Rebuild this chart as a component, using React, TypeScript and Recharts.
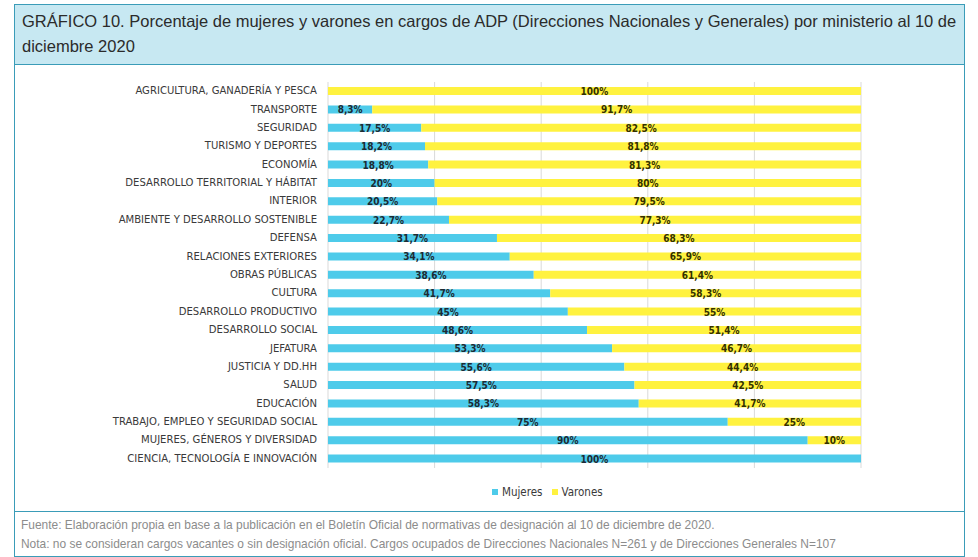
import React from "react";
import { BarChart, Bar, XAxis, YAxis, CartesianGrid, LabelList } from "recharts";

const categories = [
  "AGRICULTURA, GANADERÍA Y PESCA",
  "TRANSPORTE",
  "SEGURIDAD",
  "TURISMO Y DEPORTES",
  "ECONOMÍA",
  "DESARROLLO TERRITORIAL Y HÁBITAT",
  "INTERIOR",
  "AMBIENTE Y DESARROLLO SOSTENIBLE",
  "DEFENSA",
  "RELACIONES EXTERIORES",
  "OBRAS PÚBLICAS",
  "CULTURA",
  "DESARROLLO PRODUCTIVO",
  "DESARROLLO SOCIAL",
  "JEFATURA",
  "JUSTICIA Y DD.HH",
  "SALUD",
  "EDUCACIÓN",
  "TRABAJO, EMPLEO Y SEGURIDAD SOCIAL",
  "MUJERES, GÉNEROS Y DIVERSIDAD",
  "CIENCIA, TECNOLOGÍA E INNOVACIÓN",
];

const mujeres = [0, 8.3, 17.5, 18.2, 18.8, 20, 20.5, 22.7, 31.7, 34.1, 38.6, 41.7, 45, 48.6, 53.3, 55.6, 57.5, 58.3, 75, 90, 100];
const varones = [100, 91.7, 82.5, 81.8, 81.3, 80, 79.5, 77.3, 68.3, 65.9, 61.4, 58.3, 55, 51.4, 46.7, 44.4, 42.5, 41.7, 25, 10, 0];

const xTicks = [0, 20, 40, 60, 80, 100];

const seriesNames = ["Mujeres", "Varones"];
const COLOR_M = "#4ECBEA";
const COLOR_V = "#FFF23F";
const BORDER = "#3A9CB8";
const CONDENSED = "'DejaVu Sans Condensed', 'DejaVu Sans', sans-serif";

const data = categories.map((c, i) => ({ name: c, mujeres: mujeres[i], varones: varones[i] }));

const fmt = (v: number) => String(v).replace(".", ",") + "%";

const makeLabel = (color: string) => (props: any) => {
  const { x, y, width, height, value } = props;
  if (!value) return null;
  return (
    <text
      x={Number(x) + Number(width) / 2}
      y={Number(y) + Number(height) / 2 + 1}
      textAnchor="middle"
      dominantBaseline="middle"
      fontFamily={CONDENSED}
      fontStretch="condensed"
      fontWeight="bold"
      fontSize={10}
      fill={color}
    >
      {fmt(value)}
    </text>
  );
};

const CategoryTick = (props: any) => {
  const { x, y, payload } = props;
  return (
    <text
      x={Number(x)}
      y={Number(y)}
      textAnchor="end"
      dominantBaseline="middle"
      fontFamily={CONDENSED}
      fontStretch="condensed"
      fontSize={11.2}
      fill="#3a3a3a"
    >
      {payload.value}
    </text>
  );
};

export default function App() {
  return (
    <div style={{ position: "absolute", left: 0, top: 0, width: 978, height: 557, background: "#fff" }}>
      <div
        style={{
          position: "absolute",
          left: 14,
          top: 4,
          width: 951,
          height: 553,
          border: `1.5px solid ${BORDER}`,
          boxSizing: "border-box",
        }}
      />
      <div
        style={{
          position: "absolute",
          left: 14,
          top: 4,
          width: 951,
          height: 61,
          background: "#C7E8F2",
          border: `1.5px solid ${BORDER}`,
          boxSizing: "border-box",
          fontFamily: "'Liberation Sans', Arial, sans-serif",
          fontSize: 16.5,
          color: "#2b2b2b",
          lineHeight: "25px",
          padding: "4px 0 0 7px",
          whiteSpace: "nowrap",
        }}
      >
        <div>GRÁFICO 10. Porcentaje de mujeres y varones en cargos de ADP (Direcciones Nacionales y Generales) por ministerio al 10 de</div>
        <div>diciembre 2020</div>
      </div>
      <div
        style={{
          position: "absolute",
          left: 14,
          top: 511,
          width: 951,
          height: 0,
          borderTop: `1.5px solid ${BORDER}`,
        }}
      />
      <div
        style={{
          position: "absolute",
          left: 21,
          top: 516,
          fontFamily: "'Liberation Sans', Arial, sans-serif",
          fontSize: 11.95,
          color: "#8c8c8c",
          lineHeight: "19px",
          whiteSpace: "nowrap",
        }}
      >
        <div>Fuente: Elaboración propia en base a la publicación en el Boletín Oficial de normativas de designación al 10 de diciembre de 2020.</div>
        <div>Nota: no se consideran cargos vacantes o sin designación oficial. Cargos ocupados de Direcciones Nacionales N=261 y de Direcciones Generales N=107</div>
      </div>

      <div style={{ position: "absolute", left: 0, top: 0 }}>
        <BarChart
          width={978}
          height={557}
          data={data}
          layout="vertical"
          margin={{ top: 82, right: 117, bottom: 89, left: 28 }}
          barSize={8}
        >
          <CartesianGrid horizontal={false} vertical={true} stroke="#d9d9d9" />
          <XAxis type="number" domain={[0, 100]} ticks={xTicks} allowDataOverflow hide />
          <YAxis
            type="category"
            dataKey="name"
            width={300}
            axisLine={false}
            tickLine={false}
            tickSize={6}
            tickMargin={5}
            interval={0}
            tick={<CategoryTick />}
          />
          <Bar dataKey="mujeres" name={seriesNames[0]} stackId="a" fill={COLOR_M} isAnimationActive={false}>
            <LabelList dataKey="mujeres" content={makeLabel("#1d2a33")} />
          </Bar>
          <Bar dataKey="varones" name={seriesNames[1]} stackId="a" fill={COLOR_V} isAnimationActive={false}>
            <LabelList dataKey="varones" content={makeLabel("#333000")} />
          </Bar>
        </BarChart>
      </div>

      <div
        style={{
          position: "absolute",
          left: 492,
          top: 485,
          display: "flex",
          alignItems: "center",
          fontFamily: CONDENSED,
          fontStretch: "condensed",
          fontSize: 11.5,
          color: "#3a3a3a",
          whiteSpace: "nowrap",
        }}
      >
        <span style={{ display: "inline-block", width: 6, height: 6, background: COLOR_M, marginRight: 4 }} />
        <span style={{ marginRight: 9 }}>{seriesNames[0]}</span>
        <span style={{ display: "inline-block", width: 6, height: 6, background: COLOR_V, marginRight: 4 }} />
        <span>{seriesNames[1]}</span>
      </div>
    </div>
  );
}
